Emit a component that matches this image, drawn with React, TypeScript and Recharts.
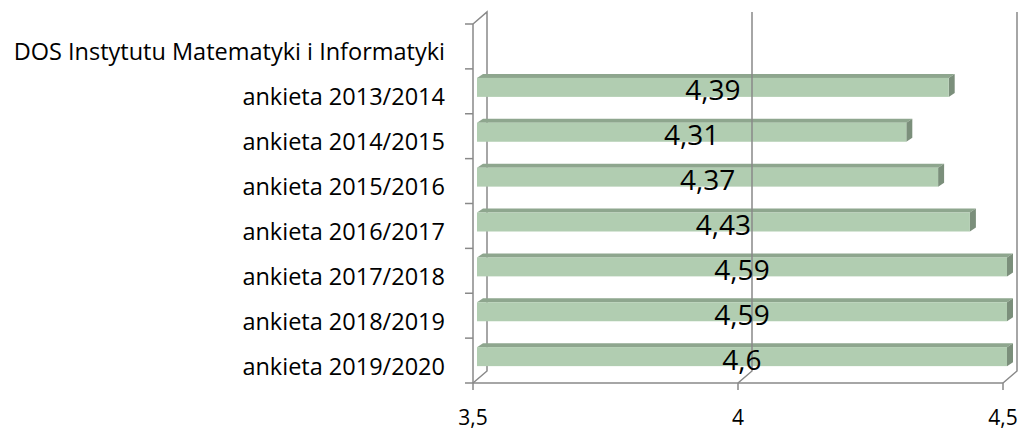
import { Bar, BarChart, LabelList, ReferenceArea, ReferenceLine, XAxis, YAxis } from 'recharts'

const categories = [
  'DOS Instytutu Matematyki i Informatyki',
  'ankieta 2013/2014',
  'ankieta 2014/2015',
  'ankieta 2015/2016',
  'ankieta 2016/2017',
  'ankieta 2017/2018',
  'ankieta 2018/2019',
  'ankieta 2019/2020',
]
const scores: (number | null)[] = [null, 4.39, 4.31, 4.37, 4.43, 4.59, 4.59, 4.6]
const xTicks = [3.5, 4, 4.5]

const data = categories.map((category, i) => ({ category, score: scores[i] }))

const X_MIN = xTicks[0]
const X_MAX = xTicks[xTicks.length - 1]

const WIDTH = 1022
const HEIGHT = 430
const MARGIN = { top: 24, right: 4, bottom: 0, left: 0 }
const X_AXIS_H = 47
const Y_AXIS_W = 473
const BAND = (HEIGHT - MARGIN.top - MARGIN.bottom - X_AXIS_H) / categories.length

// 3D offsets
const WALL_DX = 14
const WALL_DY = 12
const BAR_OX = 4
const BAR_OY = 4
const BAR_DX = 6
const BAR_DY = 4

const LINE = '#898989'
const FONT = '"Open Sans", sans-serif'

const fmt = (v: number) => String(v).replace('.', ',')

// bars past 4,5 stop at the axis end, like the original
const clampWidth = (width: number, value: number) =>
  width * ((Math.min(value, X_MAX) - X_MIN) / (value - X_MIN))

function Bar3D(props: any) {
  const { x, y, width, height, payload } = props
  if (payload?.score == null) return null
  const w = clampWidth(width, payload.score)
  const fx = x + BAR_OX
  const fy = y - BAR_OY
  return (
    <g>
      <polygon
        points={`${fx},${fy} ${fx + w},${fy} ${fx + w + BAR_DX},${fy - BAR_DY} ${fx + BAR_DX},${fy - BAR_DY}`}
        fill="#8ea68e"
      />
      <polygon
        points={`${fx + w},${fy} ${fx + w + BAR_DX},${fy - BAR_DY} ${fx + w + BAR_DX},${fy + height - BAR_DY} ${fx + w},${fy + height}`}
        fill="#7b8f7b"
      />
      <rect x={fx} y={fy} width={w} height={height} fill="#b1cdb1" />
    </g>
  )
}

function ValueLabel(props: any) {
  const vb = props.viewBox ?? props
  const { value } = props
  if (value == null) return null
  const w = clampWidth(vb.width, value)
  return (
    <text
      x={vb.x + BAR_OX + w / 2}
      y={vb.y - BAR_OY + vb.height / 2 + 2}
      textAnchor="middle"
      dominantBaseline="central"
      fontSize={28}
      fontFamily={FONT}
      fill="#000"
    >
      {fmt(value)}
    </text>
  )
}

function CategoryTick(props: any) {
  const { x, y, payload, index } = props
  const axisX = x + 28
  return (
    <g>
      <text
        x={x}
        y={y + 5}
        textAnchor="end"
        dominantBaseline="central"
        fontSize={23.5}
        fontFamily={FONT}
        fill="#000"
      >
        {payload.value}
      </text>
      <line x1={axisX - 8} y1={y - BAND / 2} x2={axisX} y2={y - BAND / 2} stroke={LINE} strokeWidth={1.5} />
      {index === categories.length - 1 && (
        <line x1={axisX - 8} y1={y + BAND / 2} x2={axisX} y2={y + BAND / 2} stroke={LINE} strokeWidth={1.5} />
      )}
    </g>
  )
}

function Walls(props: any) {
  const { x, y, width, height } = props
  const b = y + height
  const r = x + width
  return (
    <g fill="none" stroke={LINE} strokeWidth={1.5}>
      <line x1={x} y1={b} x2={r} y2={b} />
      <polyline points={`${x},${y} ${x + WALL_DX},${y - WALL_DY} ${x + WALL_DX},${b - WALL_DY} ${x},${b}`} />
      <polyline points={`${r},${b} ${r + WALL_DX},${b - WALL_DY} ${r + WALL_DX},${y - WALL_DY}`} />
    </g>
  )
}

function GridLine3D(props: any) {
  const { x1, y1, y2 } = props
  const top = Math.min(y1, y2)
  const bottom = Math.max(y1, y2)
  return (
    <polyline
      points={`${x1},${bottom} ${x1 + WALL_DX},${bottom - WALL_DY} ${x1 + WALL_DX},${top - WALL_DY}`}
      fill="none"
      stroke={LINE}
      strokeWidth={1.5}
    />
  )
}

export default function App() {
  return (
    <div style={{ position: 'absolute', left: 0, top: 0, background: '#fff' }}>
      {/* the bar depth faces stick out past the axis end, so no clipping */}
      <style>{'.recharts-bar [clip-path]{clip-path:none !important}'}</style>
      <BarChart
        width={WIDTH}
        height={HEIGHT}
        data={data}
        layout="vertical"
        margin={MARGIN}
        barSize={19}
      >
        <ReferenceArea x1={X_MIN} x2={X_MAX} shape={Walls} />
        <ReferenceLine x={4} shape={GridLine3D} />
        <XAxis
          type="number"
          domain={[X_MIN, X_MAX]}
          ticks={xTicks}
          allowDataOverflow
          padding={{ right: 15 }}
          height={X_AXIS_H}
          axisLine={false}
          tickLine={{ stroke: LINE, strokeWidth: 1.5 }}
          tickSize={7}
          tickMargin={20}
          tickFormatter={fmt}
          tick={{ fill: '#000', fontSize: 21, fontFamily: FONT }}
        />
        <YAxis
          type="category"
          dataKey="category"
          width={Y_AXIS_W}
          axisLine={{ stroke: LINE, strokeWidth: 1.5 }}
          tickLine={false}
          tickSize={0}
          tickMargin={28}
          tick={CategoryTick}
          interval={0}
        />
        <Bar dataKey="score" shape={Bar3D} isAnimationActive={false}>
          <LabelList dataKey="score" content={ValueLabel} />
        </Bar>
      </BarChart>
    </div>
  )
}
